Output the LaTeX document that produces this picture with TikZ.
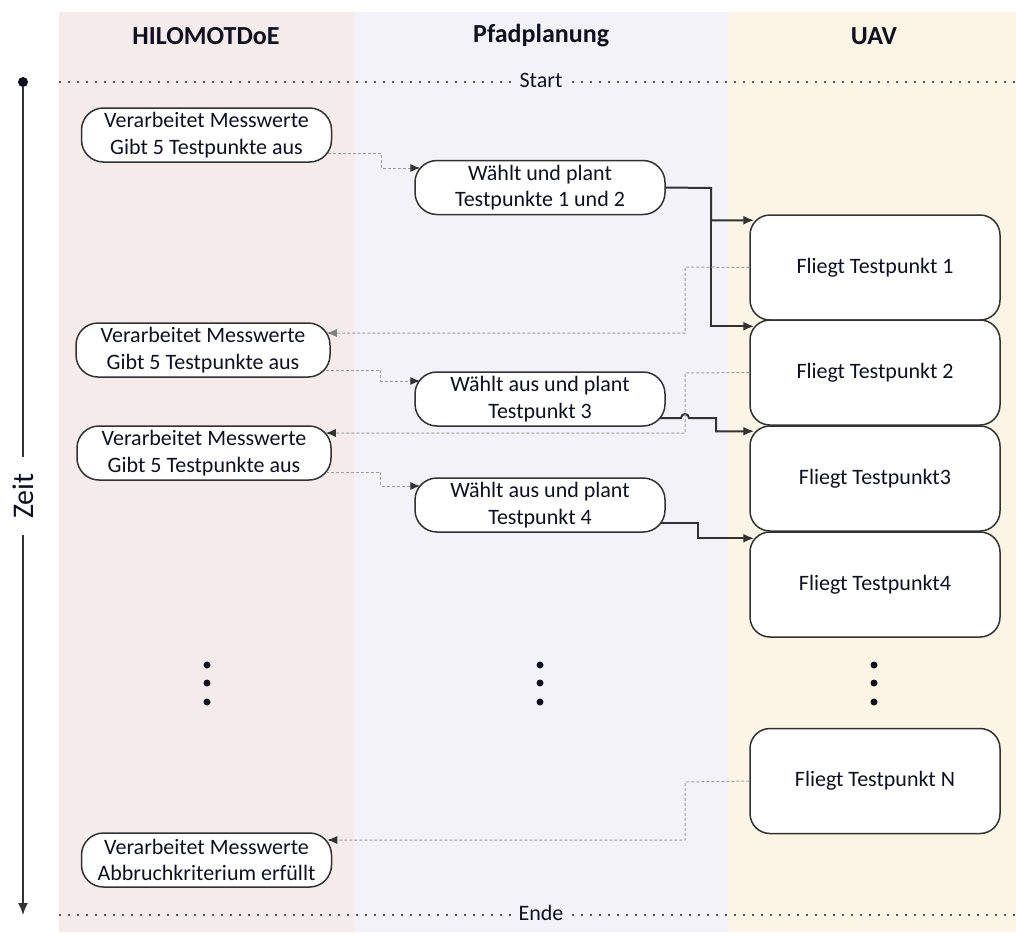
\documentclass[tikz,border=0pt]{standalone}
\usepackage{fontspec}
\setmainfont{Carlito}
\usetikzlibrary{arrows.meta}
\definecolor{laneH}{RGB}{245,235,235}
\definecolor{laneP}{RGB}{243,242,248}
\definecolor{laneU}{RGB}{252,244,228}
\definecolor{ink}{RGB}{15,17,32}
\definecolor{edge}{RGB}{50,50,50}
\definecolor{msggray}{RGB}{160,160,160}
\definecolor{dotgray}{RGB}{90,90,90}
\begin{document}
\begin{tikzpicture}[x=1pt,y=-1pt,
  every node/.style={font=\fontsize{22}{26.5}\selectfont, text=ink},
  header/.style={font=\fontsize{26}{31}\selectfont\bfseries},
  task/.style={draw=edge, line width=1.5pt, fill=white, rounded corners=22pt,
    minimum width=250pt, minimum height=54pt, align=center, inner sep=0pt},
  fly/.style={draw=edge, line width=1.5pt, fill=white, rounded corners=20pt,
    minimum width=250pt, minimum height=105pt, inner sep=0pt},
  msg/.style={draw=msggray, line width=1pt, dash pattern=on 3pt off 2pt,
    -{Latex[length=10pt,width=8pt,color=edge]}},
  flow/.style={draw=edge, line width=2pt, -{Latex[length=11pt,width=9pt]}},
  phase/.style={draw=dotgray, line width=1.5pt, dash pattern=on 1.5pt off 7.5pt},
  ellip/.style={fill=ink}]

% swimlanes
\fill[laneH] (59,12) rectangle (354,932);
\fill[laneP] (354,12) rectangle (728,932);
\fill[laneU] (728,12) rectangle (1016,932);
\useasboundingbox (0,0) rectangle (1016,934);

% lane headers
\node[header] (hH) at (206,36) {HILOMOTDoE};
\node[header] (hP) at (541,36) {Pfadplanung};
\node[header] (hU) at (874,36) {UAV};

% start / end markers
\draw[phase] (59,82) -- (1016,82);
\draw[phase] (59,915) -- (1016,915);
\node[fill=laneP, inner sep=5pt] (start) at (541,80) {Start};
\node[fill=laneP, inner sep=5pt] (ende) at (541,913) {Ende};

% time axis
\node[circle, fill=ink, inner sep=0pt, minimum size=10pt] (t0) at (23,82) {};
\coordinate (t1) at (23,915);
\draw[line width=1.6pt, draw=edge, -{Latex[length=12pt,width=10pt]}] (t0) -- (t1);
\node[rotate=90, fill=white, font=\fontsize{30}{36}\selectfont,
  inner xsep=16pt, inner ysep=2pt] (zeit) at (23,496) {Zeit};

% HILOMOTDoE tasks
\node[task] (H1) at (206.5,135) {Verarbeitet Messwerte\\Gibt 5 Testpunkte aus};
\node[task, minimum width=254pt] (H2) at (203,350) {Verarbeitet Messwerte\\Gibt 5 Testpunkte aus};
\node[task, minimum width=254pt] (H3) at (204,453) {Verarbeitet Messwerte\\Gibt 5 Testpunkte aus};
\node[task] (H4) at (206.5,860) {Verarbeitet Messwerte\\Abbruchkriterium erfüllt};

% path planning tasks
\node[task] (P1) at (540,187.5) {Wählt und plant\\Testpunkte 1 und 2};
\node[task] (P2) at (540,399) {Wählt aus und plant\\Testpunkt 3};
\node[task] (P3) at (540,505) {Wählt aus und plant\\Testpunkt 4};

% UAV flights
\node[fly] (U1) at (875,267.5) {Fliegt Testpunkt 1};
\node[fly] (U2) at (875,372.5) {Fliegt Testpunkt 2};
\node[fly] (U3) at (875,478.5) {Fliegt Testpunkt3};
\node[fly] (U4) at (875,584.5) {Fliegt Testpunkt4};
\node[fly] (UN) at (875,781) {Fliegt Testpunkt N};

% continuation dots
\foreach \xx in {207,540,874}
  \foreach \yy in {665,683,702}
    \fill[ellip] (\xx,\yy) circle (3.5pt);

% test points handed to path planning
\draw[msg] ([xshift=-4pt,yshift=-18pt]H1.east) -- ++(53,0) |- ([xshift=6pt,yshift=19.5pt]P1.west);
\draw[msg] ([xshift=-5pt,yshift=-20pt]H2.east) -- ++(55,0) |- ([xshift=6pt,yshift=18pt]P2.west);
\draw[msg] ([xshift=-6pt,yshift=-19pt]H3.east) -- ++(55,0) |- ([xshift=6pt,yshift=19pt]P3.west);

% planned paths sent to the UAV
\coordinate (j1) at (711,188);
\draw[flow] (P1.east) -- (j1) |- ([xshift=5pt,yshift=-6pt]U1.north west);
\draw[flow] (j1) |- ([xshift=5pt,yshift=-7pt]U2.north west);
\draw[flow] ([xshift=-6pt,yshift=-19pt]P2.east) -- (681,418) arc[start angle=180, end angle=0, radius=4pt]
  -- (716,418) |- ([xshift=5pt,yshift=-6pt]U3.north west);
\draw[flow] ([xshift=-6pt,yshift=-18pt]P3.east) -- (698,523) |- ([xshift=5pt,yshift=-7pt]U4.north west);

% measurements returned to HILOMOTDoE
\draw[msg, -{Latex[length=10pt,width=8pt,color=gray]}] (U1.west) -- (685,267) |- ([xshift=-4pt,yshift=17pt]H2.east);
\draw[msg] (U2.west) -- (685,373) |- ([xshift=-6pt,yshift=20pt]H3.east);
\draw[msg] (UN.west) -- (685,782) |- ([xshift=-5pt,yshift=20pt]H4.east);
\end{tikzpicture}
\end{document}
